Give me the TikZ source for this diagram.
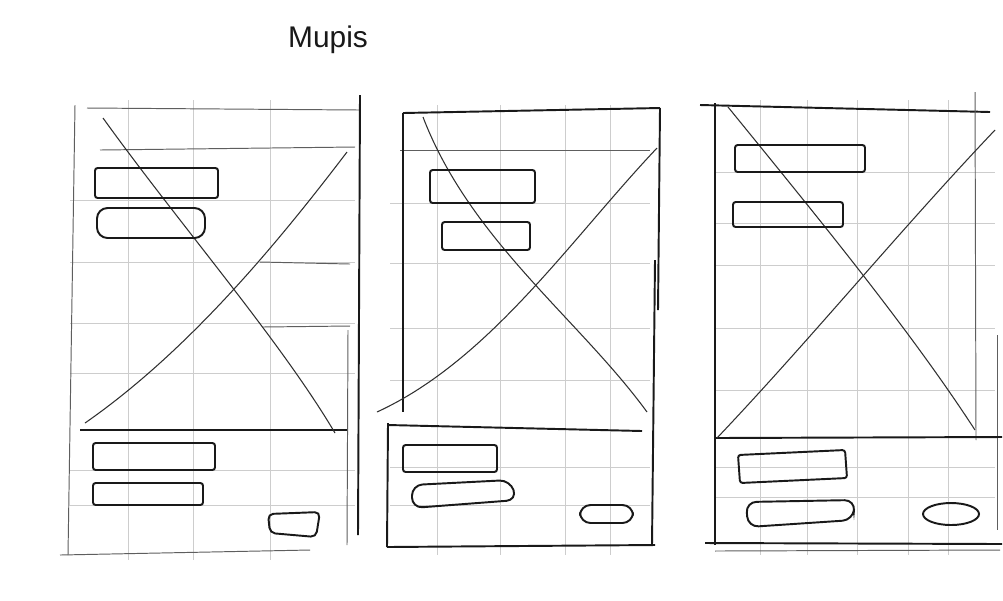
\documentclass[tikz,border=0pt]{standalone}
\usepackage{fontspec}
\usepackage{tikz}
\usetikzlibrary{calc}
\newfontfamily\sketchfont{Liberation Sans}
\definecolor{pencil}{RGB}{25,25,25}
\definecolor{faint}{RGB}{205,205,205}
\tikzset{
  gridln/.style={draw=faint,line width=0.35pt},
  frameln/.style={draw=pencil!70,line width=0.55pt},
  darkln/.style={draw=pencil,line width=1.1pt},
  crossln/.style={draw=pencil!90,line width=0.6pt},
  boxln/.style={draw=pencil,line width=1.1pt,rounded corners=1.5pt},
  pillln/.style={draw=pencil,line width=1.1pt,rounded corners=6pt},
  titletext/.style={font=\sketchfont\fontsize{17}{19}\selectfont,text=pencil}
}
\begin{document}
\begin{tikzpicture}[x=0.02cm,y=-0.02cm]
  \useasboundingbox (0,0) rectangle (1003,600);
  \fill[white] (0,0) rectangle (1003,600);

  \node[titletext] (title) at (328,40) {Mupis};

  % panel 1
  \foreach \gx in {128,193,270} \draw[gridln] (\gx,100) -- (\gx,560);
  \foreach \gy in {200,262,323,373,470,505} \draw[gridln] (70,\gy) -- (355,\gy);
  \draw[frameln] (87,108) -- (360,110);
  \draw[frameln] (100,150) -- (355,147);
  \draw[frameln] (75,105) -- (68,555);
  \draw[darkln] (360,95) -- (358,535);
  \draw[frameln] (348,330) -- (347,545);
  \draw[frameln] (260,262) -- (350,264);
  \draw[frameln] (262,327) -- (350,326);
  \draw[darkln] (80,430) -- (347,430);
  \draw[frameln] (60,555) -- (310,550);
  \draw[crossln] (103,118) .. controls (180,225) and (280,340) .. (335,433);
  \draw[crossln] (347,152) .. controls (280,240) and (190,350) .. (85,423);
  \draw[boxln] (95,168) rectangle (218,198);
  \draw[pillln] (97,208) rectangle (205,238);
  \draw[boxln] (93,443) rectangle (215,470);
  \draw[boxln] (93,483) rectangle (203,505);
  \draw[boxln,rounded corners=3pt] (268,514) -- (320,512) -- (316,537) -- (270,533) -- cycle;

  % panel 2
  \foreach \gx in {437,500,565,610} \draw[gridln] (\gx,105) -- (\gx,555);
  \foreach \gy in {203,263,328,380,467,505} \draw[gridln] (390,\gy) -- (650,\gy);
  \draw[darkln] (403,113) -- (660,108);
  \draw[frameln] (400,150) -- (650,150);
  \draw[darkln] (660,108) -- (658,310);
  \draw[darkln] (655,260) -- (652,545);
  \draw[darkln] (403,113) -- (403,412);
  \draw[darkln] (388,423) -- (387,547);
  \draw[darkln] (387,547) -- (655,545);
  \draw[darkln] (388,425) -- (642,431);
  \draw[crossln] (423,117) .. controls (470,240) and (580,320) .. (647,412);
  \draw[crossln] (657,148) .. controls (570,240) and (490,360) .. (377,412);
  \draw[boxln] (430,170) rectangle (535,203);
  \draw[boxln] (442,222) rectangle (530,250);
  \draw[boxln] (403,445) rectangle (497,472);
  \draw[pillln] (412,485) -- (510,480) -- (517,500) -- (412,508) -- cycle;
  \draw[pillln] (580,505) rectangle (633,523);

  % panel 3
  \foreach \gx in {760,807,857,908,948} \draw[gridln] (\gx,100) -- (\gx,555);
  \foreach \gy in {172,223,265,328,390,467,497} \draw[gridln] (715,\gy) -- (995,\gy);
  \draw[darkln] (700,105) -- (990,112);
  \draw[darkln] (715,103) -- (715,545);
  \draw[frameln] (975,92) -- (976,440);
  \draw[frameln] (997,335) -- (997,530);
  \draw[darkln] (715,438) -- (1002,437);
  \draw[darkln] (705,543) -- (1002,544);
  \draw[frameln] (715,551) -- (1000,550);
  \draw[crossln] (728,107) .. controls (820,220) and (910,330) .. (975,430);
  \draw[crossln] (995,130) .. controls (900,230) and (810,340) .. (717,438);
  \draw[boxln] (735,145) rectangle (865,172);
  \draw[boxln] (733,202) rectangle (843,227);
  \draw[boxln] (738,455) -- (845,450) -- (847,478) -- (740,483) -- cycle;
  \draw[pillln] (746,502) -- (855,500) -- (853,520) -- (748,527) -- cycle;
  \draw[darkln] (951,514) ellipse (28 and 11);
\end{tikzpicture}
\end{document}
